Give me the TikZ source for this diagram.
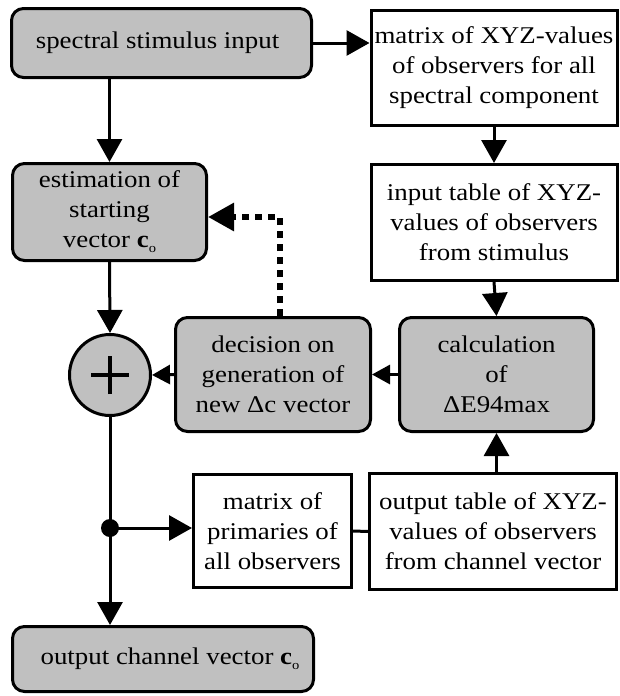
\documentclass[tikz,border=0pt]{standalone}
\usepackage{fontspec}
\setmainfont[FakeStretch=1.12]{Liberation Serif}
\usetikzlibrary{arrows.meta}
\definecolor{boxgray}{HTML}{C0C0C0}
\newcommand{\cvec}{\textbf{c}\raisebox{-5pt}{\fontsize{13}{13}\selectfont o}}
\begin{document}
\begin{tikzpicture}[x=1pt,y=-1pt,
  txt/.style={font=\fontsize{24}{30}\selectfont, align=center, inner sep=0pt, line width=3pt, draw=black},
  graybox/.style={txt, fill=boxgray, rounded corners=12pt},
  whitebox/.style={txt, fill=white},
  conn/.style={line width=3pt, -{Triangle[length=23pt,width=25pt]}},
  sconn/.style={line width=3pt, -{Triangle[length=18pt,width=19pt]}},
  dotconn/.style={line width=6pt, dash pattern=on 7pt off 6pt, -{Triangle[length=26pt,width=27pt]}}
]
\useasboundingbox (0,0) rectangle (620,696);

\node[graybox, minimum width=300pt, minimum height=69pt] (A) at (161.5,43) {spectral stimulus input\hspace{8pt}};
\node[whitebox, minimum width=246pt, minimum height=115pt] (B) at (494,68) {matrix of XYZ-values\\of observers for all\\spectral component};
\node[whitebox, minimum width=246pt, minimum height=116pt] (C) at (494,222.5) {input table of XYZ-\\values of observers\\from stimulus};
\node[graybox, minimum width=194pt, minimum height=97pt] (D) at (109.5,212) {estimation of\\starting\\vector \cvec};
\node[circle, draw, line width=3pt, fill=boxgray, minimum size=81pt, inner sep=0pt] (S) at (110,375) {};
\draw[line width=3.5pt] ([xshift=-19pt]S.center) -- ([xshift=19pt]S.center)
                        ([yshift=-19pt]S.center) -- ([yshift=19pt]S.center);
\node[graybox, minimum width=195pt, minimum height=114pt] (E) at (273,374.5) {decision on\\generation of\\new Δc vector};
\node[graybox, minimum width=194pt, minimum height=114pt] (F) at (496.5,374.5) {calculation\\of\\ΔE94max};
\node[whitebox, minimum width=158pt, minimum height=113pt] (G) at (272.5,531) {matrix of\\primaries of\\all observers};
\node[whitebox, minimum width=247pt, minimum height=116pt] (H) at (493,531.5) {output table of XYZ-\\values of observers\\from channel vector};
\node[graybox, minimum width=301pt, minimum height=65pt] (I) at (163,659) {\hspace{14pt}output channel vector \cvec};

\coordinate (jn) at (110,528);
\coordinate (dt) at (280,217);

\draw[conn] (A.east) -- (A.east -| B.west);
\draw[conn] (D.north |- A.south) -- (D.north);
\draw[conn] (B.south) -- (C.north);
\draw[conn] (C.south) -- (F.north);
\draw[conn] (F.south |- H.north) -- (F.south);
\draw[sconn] (F.west) -- (E.east);
\draw[sconn] (E.west) -- (S.east);
\draw[conn] (D.south) -- (S.north);
\draw[dotconn] (E.north -| dt) -- (dt) -- (dt -| D.east);
\draw[line width=3pt] (S.south) -- (jn);
\draw[conn] (jn) -- (jn |- I.north);
\draw[conn] (jn) -- (jn -| G.west);
\draw[line width=3pt] (G.east) -- (H.west);
\fill (jn) circle (9pt);
\end{tikzpicture}
\end{document}
